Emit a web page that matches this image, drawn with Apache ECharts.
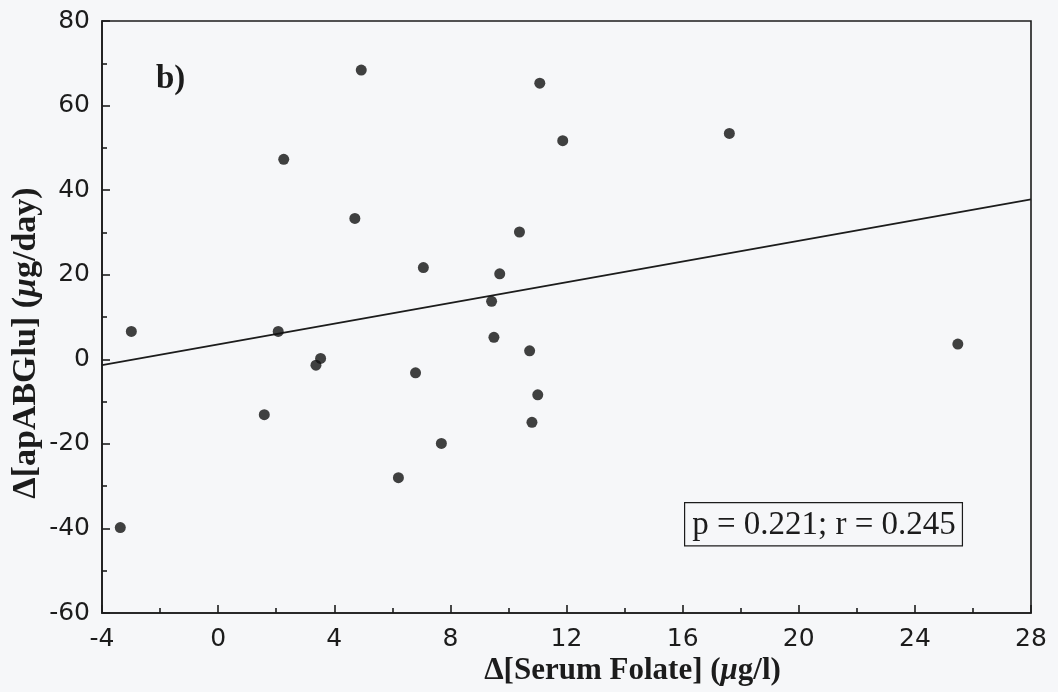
<!DOCTYPE html>
<html>
<head>
<meta charset="utf-8">
<script src="https://cdn.jsdelivr.net/npm/echarts@6/dist/echarts.min.js"></script>
<style>
html, body { margin: 0; padding: 0; background: #f6f7f9; }
#chart { width: 1058px; height: 692px; }
</style>
</head>
<body>
<div id="chart"></div>
<script>
// 散点数据
var folate = [4.93, 11.08, 11.87, 2.26, 4.71, 10.38, 7.07, 9.70, 9.42,
	-2.99, 2.07, 3.53, 3.37, 9.50, 10.73, 6.80, 11.01, 10.81, 1.59, 7.69, 6.21, -3.37,
	17.61, 25.48];
var apABGlu = [68.4, 65.3, 51.7, 47.3, 33.3, 30.1, 21.7, 20.2, 13.7,
	6.6, 6.6, 0.2, -1.4, 5.2, 2.0, -3.2, -8.4, -14.9, -13.1, -19.9, -28.0, -39.8,
	53.4, 3.6];

// 回归线两端
var fitX = [-4, 28];
var fitY = [-1.4, 37.8];

var xTicks = { min: -4, max: 28, step: 4 };
var yTicks = { min: -60, max: 80, step: 20 };

var statText = 'p = 0.221; r = 0.245';
var panelText = 'b)';

var points = folate.map(function(x, i) {
	return [x, apABGlu[i]];
});
var fitLine = fitX.map(function(x, i) {
	return [x, fitY[i]];
});

var serif = 'Liberation Serif';
var sans = 'DejaVu Sans';
var ink = '#1c1c1c';

var myChart = echarts.init(document.getElementById('chart'));
var option = {
	backgroundColor: '#f6f7f9',
	animation: false,
	grid: {
		left: 102,
		right: 27,
		top: 21,
		bottom: 79,
		outerBoundsMode: 'none',
		show: true,
		borderColor: ink,
		borderWidth: 1.6
	},
	xAxis: {
		type: 'value',
		min: xTicks.min,
		max: xTicks.max,
		interval: xTicks.step,
		name: '{b|Δ[Serum Folate] (}{i|μ}{b|g/l)}',
		nameLocation: 'middle',
		nameGap: 42,
		nameMoveOverlap: false,
		nameTextStyle: {
			padding: [0, 0, 0, 132],
			rich: {
				b: { fontFamily: serif, fontWeight: 'bold', fontSize: 31, color: ink },
				i: { fontFamily: serif, fontWeight: 'bold', fontStyle: 'italic', fontSize: 31, color: ink }
			}
		},
		splitLine: { show: false },
		axisLine: { onZero: false, lineStyle: { color: ink, width: 1.6 } },
		axisTick: { inside: true, length: 8, lineStyle: { color: ink, width: 1.6 } },
		minorTick: { show: true, splitNumber: 2, length: 5, lineStyle: { color: ink, width: 1.6 } },
		axisLabel: { fontFamily: sans, fontSize: 25, color: ink, margin: 14 }
	},
	yAxis: {
		type: 'value',
		min: yTicks.min,
		max: yTicks.max,
		interval: yTicks.step,
		name: '{b|Δ[apABGlu] (}{i|μ}{b|g/day)}',
		nameLocation: 'middle',
		nameGap: 59,
		nameMoveOverlap: false,
		nameTextStyle: {
			padding: [0, 52, 0, 0],
			rich: {
				b: { fontFamily: serif, fontWeight: 'bold', fontSize: 34, color: ink },
				i: { fontFamily: serif, fontWeight: 'bold', fontStyle: 'italic', fontSize: 34, color: ink }
			}
		},
		splitLine: { show: false },
		axisLine: { onZero: false, lineStyle: { color: ink, width: 1.6 } },
		axisTick: { inside: true, length: 8, lineStyle: { color: ink, width: 1.6 } },
		minorTick: { show: true, splitNumber: 2, length: 5, lineStyle: { color: ink, width: 1.6 } },
		axisLabel: { fontFamily: sans, fontSize: 25, color: ink, margin: 12 }
	},
	graphic: [
		{
			type: 'text',
			left: 156,
			top: 63,
			style: {
				text: panelText,
				font: 'bold 33px "Liberation Serif"',
				fill: ink
			}
		},
		{
			type: 'text',
			left: 684,
			top: 502,
			style: {
				text: statText,
				font: '33px "Liberation Serif"',
				fill: ink,
				backgroundColor: '#f6f7f9',
				borderColor: ink,
				borderWidth: 1.2,
				padding: [6, 6, 3, 7]
			}
		}
	],
	series: [
		{
			type: 'line',
			data: fitLine,
			symbol: 'none',
			lineStyle: { color: ink, width: 1.8 },
			z: 2
		},
		{
			type: 'scatter',
			data: points,
			symbol: 'circle',
			symbolSize: 11,
			itemStyle: { color: '#111' },
			z: 3
		}
	]
};
myChart.setOption(option);
</script>
</body>
</html>
